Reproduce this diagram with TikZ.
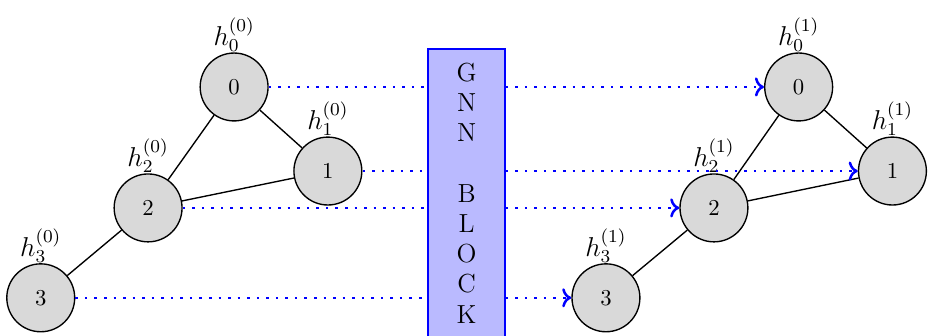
\documentclass[tikz,border=0pt]{standalone}
\usepackage{amsmath}
\usetikzlibrary{arrows.meta, positioning}

\begin{document}
\begin{tikzpicture}[
    vtx/.style={draw, circle, semithick, fill=black!15, minimum size=1.05cm,
                inner sep=0pt},
    every label/.style={font=\large, inner sep=1pt},
    label distance=-1pt,
    edg/.style={semithick},
    blockbox/.style={draw=blue, semithick, fill=blue!27, align=center,
                     minimum width=1.19cm, minimum height=4.46cm,
                     font=\fontsize{11.5pt}{13.3pt}\selectfont},
    feed/.style={blue, line width=1.1pt, dash pattern=on 1.1pt off 3.1pt},
    feedin/.style={feed, ->},
  ]
  \useasboundingbox (0,0) rectangle (14.35,5.195);

  %% ---- input graph -----------------------------------------------------
  \node[vtx, label=above:{$h_0^{(0)}$}] (a0) at (3.62,3.85) {0};
  \node[vtx, label=above:{$h_1^{(0)}$}] (a1) at (5.07,2.55) {1};
  \node[vtx, label=above:{$h_2^{(0)}$}] (a2) at (2.29,1.98) {2};
  \node[vtx, label=above:{$h_3^{(0)}$}] (a3) at (0.63,0.59) {3};
  \draw[edg] (a0) -- (a1);
  \draw[edg] (a0) -- (a2);
  \draw[edg] (a1) -- (a2);
  \draw[edg] (a2) -- (a3);

  %% ---- the block -------------------------------------------------------
  \node[blockbox] (gnn) at (7.215,2.21) {G\\N\\N\\ \\B\\L\\O\\C\\K};

  %% ---- output graph ----------------------------------------------------
  \node[vtx, label=above:{$h_0^{(1)}$}] (b0) at (12.35,3.85) {0};
  \node[vtx, label=above:{$h_1^{(1)}$}] (b1) at (13.80,2.55) {1};
  \node[vtx, label=above:{$h_2^{(1)}$}] (b2) at (11.04,1.98) {2};
  \node[vtx, label=above:{$h_3^{(1)}$}] (b3) at (9.37,0.59) {3};
  \draw[edg] (b0) -- (b1);
  \draw[edg] (b0) -- (b2);
  \draw[edg] (b1) -- (b2);
  \draw[edg] (b2) -- (b3);

  %% ---- feature flow ----------------------------------------------------
  \foreach \i in {0,...,3} {
    \draw[feed]   (a\i) -- (a\i -| gnn.west);
    \draw[feedin] (gnn.east |- b\i) -- (b\i);
  }

\end{tikzpicture}
\end{document}
